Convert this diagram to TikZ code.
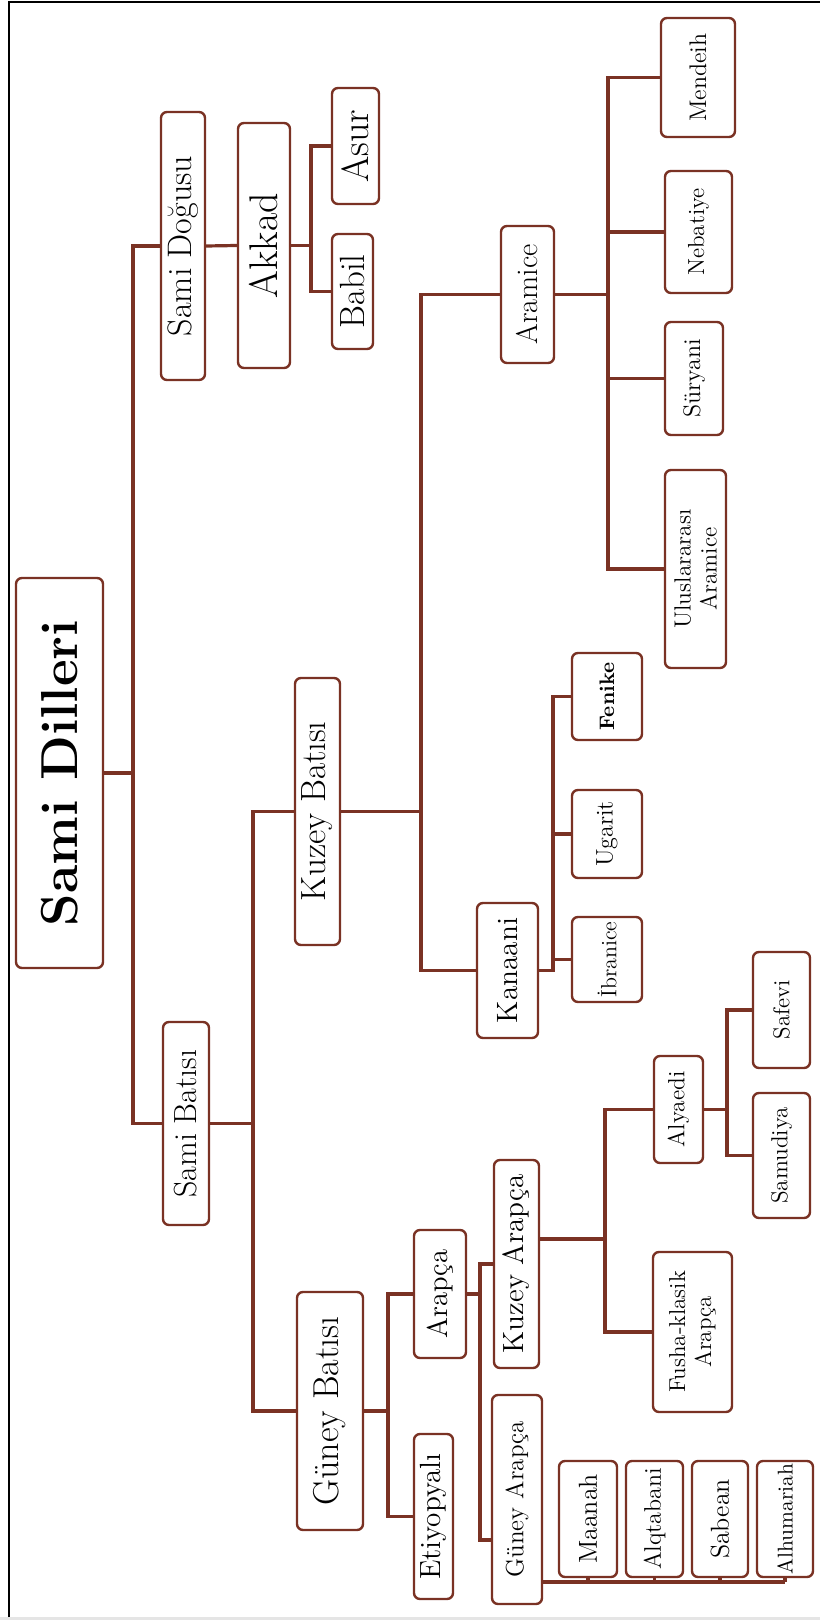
\documentclass[tikz,border=0pt]{standalone}
\usepackage{tikz}
\usetikzlibrary{calc}
\definecolor{branch}{RGB}{122,50,36}
\tikzset{
    lang/.style={draw=branch, line width=1.2pt, rounded corners=3pt, rotate=90,
                 fill=white, inner sep=1pt, align=center},
    link/.style={draw=branch, line width=1.6pt},
}

\begin{document}
\begin{tikzpicture}[x=0.5pt,y=-0.5pt]
    \useasboundingbox (0,0) rectangle (820,1620);
    \fill[gray!20] (0,1617) rectangle (820,1620);
    \draw[line width=1pt] (9,1617) -- (9,2) -- (820,2);

    % x of the branch lines
    \coordinate (rootb) at (133,0);
    \coordinate (akkadb) at (311,0);
    \coordinate (sambatb) at (253,0);
    \coordinate (kuzbatb) at (421,0);
    \coordinate (aramb) at (608,0);
    \coordinate (kanb) at (553,0);
    \coordinate (gunbatb) at (388,0);
    \coordinate (arapb) at (480,0);
    \coordinate (kuzarb) at (605,1239);
    \coordinate (alyb) at (727,0);
    \coordinate (guzin) at (480,1540);
    \coordinate (gline) at (0,1582);

    % languages
    \node[lang, minimum width=195pt, minimum height=43.5pt, font=\fontsize{26}{30}\selectfont\bfseries] (root) at (59.5,773) {Sami Dilleri};
    \node[lang, minimum width=134pt, minimum height=22pt, font=\fontsize{17}{20}\selectfont] (dogu) at (183,246) {Sami Doğusu};
    \node[lang, minimum width=122.5pt, minimum height=26pt, font=\fontsize{20}{24}\selectfont] (akkad) at (264,245.5) {Akkad};
    \node[lang, minimum width=58pt, minimum height=23.5pt, font=\fontsize{19}{22}\selectfont] (asur) at (355.5,146) {Asur};
    \node[lang, minimum width=57.5pt, minimum height=20.5pt, font=\fontsize{17.5}{20}\selectfont] (babil) at (352.5,291.5) {Babil};

    \node[lang, minimum width=101.5pt, minimum height=23pt, font=\fontsize{16}{19}\selectfont] (sambat) at (186,1123.5) {Sami Batısı};
    \node[lang, minimum width=133.5pt, minimum height=22.5pt, font=\fontsize{17.5}{20}\selectfont] (kuzbat) at (317.5,811.5) {Kuzey Batısı};
    \node[lang, minimum width=119pt, minimum height=33pt, font=\fontsize{18}{21}\selectfont] (gunbat) at (330,1411) {Güney Batısı};

    \node[lang, minimum width=68.5pt, minimum height=26.5pt, font=\fontsize{15}{18}\selectfont] (aramice) at (527.5,294.5) {Aramice};
    \node[lang, minimum width=59.5pt, minimum height=37pt, font=\fontsize{12}{14}\selectfont] (mendeih) at (698,77.5) {Mendeih};
    \node[lang, minimum width=61pt, minimum height=33.5pt, font=\fontsize{11.6}{14}\selectfont] (nebatiye) at (698.5,232) {Nebatiye};
    \node[lang, minimum width=56.5pt, minimum height=29pt, font=\fontsize{12}{14}\selectfont] (suryani) at (694,378.5) {Süryani};
    \node[lang, minimum width=99pt, minimum height=30.5pt, font=\fontsize{11.7}{13}\selectfont] (ulusl) at (695.5,569) {Uluslararası\\Aramice};

    \node[lang, minimum width=67.5pt, minimum height=30.5pt, font=\fontsize{14.7}{17}\selectfont] (kanaani) at (507.5,970.5) {Kanaani};
    \node[lang, minimum width=43.5pt, minimum height=35pt, font=\fontsize{10.5}{12}\selectfont\bfseries] (fenike) at (607,696.5) {Fenike};
    \node[lang, minimum width=44pt, minimum height=35pt, font=\fontsize{12}{14}\selectfont] (ugarit) at (607,834) {Ugarit};
    \node[lang, minimum width=42.5pt, minimum height=35pt, font=\fontsize{11}{13}\selectfont] (ibranice) at (607,959.5) {İbranice};

    \node[lang, minimum width=64pt, minimum height=26pt, font=\fontsize{14.3}{17}\selectfont] (arapca) at (440,1294) {Arapça};
    \node[lang, minimum width=82.5pt, minimum height=19.5pt, font=\fontsize{14.6}{17}\selectfont] (etiyop) at (433.5,1516.5) {Etiyopyalı};
    \node[lang, minimum width=104pt, minimum height=22.5pt, font=\fontsize{14.6}{17}\selectfont] (kuzar) at (516.5,1264) {Kuzey Arapça};
    \node[lang, minimum width=104.5pt, minimum height=25pt, font=\fontsize{12.5}{15}\selectfont] (guzar) at (517,1499.5) {Güney Arapça};

    \node[lang, minimum width=53.5pt, minimum height=24.5pt, font=\fontsize{11.7}{14}\selectfont] (alyaedi) at (678.5,1109.5) {Alyaedi};
    \node[lang, minimum width=80pt, minimum height=39.5pt, font=\fontsize{11.5}{13}\selectfont] (fusha) at (692.5,1332) {Fusha-klasik\\Arapça};
    \node[lang, minimum width=58pt, minimum height=28.5pt, font=\fontsize{11.5}{14}\selectfont] (safevi) at (781.5,1010) {Safevi};
    \node[lang, minimum width=62.5pt, minimum height=28.5pt, font=\fontsize{11.6}{14}\selectfont] (samudiya) at (781.5,1155.5) {Samudiya};

    \node[lang, minimum width=58pt, minimum height=29pt, font=\fontsize{13}{15}\selectfont] (maanah) at (588,1519) {Maanah};
    \node[lang, minimum width=58pt, minimum height=28.5pt, font=\fontsize{12}{14}\selectfont] (alqtabani) at (654.5,1519) {Alqtabani};
    \node[lang, minimum width=58pt, minimum height=28pt, font=\fontsize{13}{15}\selectfont] (sabean) at (720,1519) {Sabean};
    \node[lang, minimum width=58pt, minimum height=28pt, font=\fontsize{10.7}{13}\selectfont] (alhum) at (785,1519) {Alhumariah};

    % connectors
    \foreach \c in {dogu,sambat}
        \draw[link] (root.south) -- (root.south -| rootb) |- (\c.north);
    \draw[link] (dogu.south) -- (akkad.north);
    \foreach \c in {asur,babil}
        \draw[link] (akkad.south) -- (akkad.south -| akkadb) |- (\c.north);
    \foreach \c in {kuzbat,gunbat}
        \draw[link] (sambat.south) -- (sambat.south -| sambatb) |- (\c.north);
    \foreach \c in {aramice,kanaani}
        \draw[link] (kuzbat.south) -- (kuzbat.south -| kuzbatb) |- (\c.north);
    \foreach \c in {mendeih,nebatiye,suryani,ulusl}
        \draw[link] (aramice.south) -- (aramice.south -| aramb) |- (\c.north);
    \foreach \c in {fenike,ugarit,ibranice}
        \draw[link] (kanaani.south) -- (kanaani.south -| kanb) |- (\c.north);
    \foreach \c in {arapca,etiyop}
        \draw[link] (gunbat.south) -- (gunbat.south -| gunbatb) |- (\c.north);
    \draw[link] (arapca.south) -- (arapca.south -| arapb) |- (kuzar.north);
    \draw[link] (arapca.south -| arapb) -- (guzin) -- (guzin -| guzar.north);
    \foreach \c in {alyaedi,fusha}
        \draw[link] (kuzarb -| kuzar.south) -- (kuzarb) |- (\c.north);
    \foreach \c in {safevi,samudiya}
        \draw[link] (alyaedi.south) -- (alyaedi.south -| alyb) |- (\c.north);
    \draw[link] (gline -| guzar.south) -- (gline -| alhum.west);
    \foreach \c in {maanah,alqtabani,sabean,alhum}
        \draw[link] (\c.west) -- (gline -| \c.west);
\end{tikzpicture}
\end{document}
